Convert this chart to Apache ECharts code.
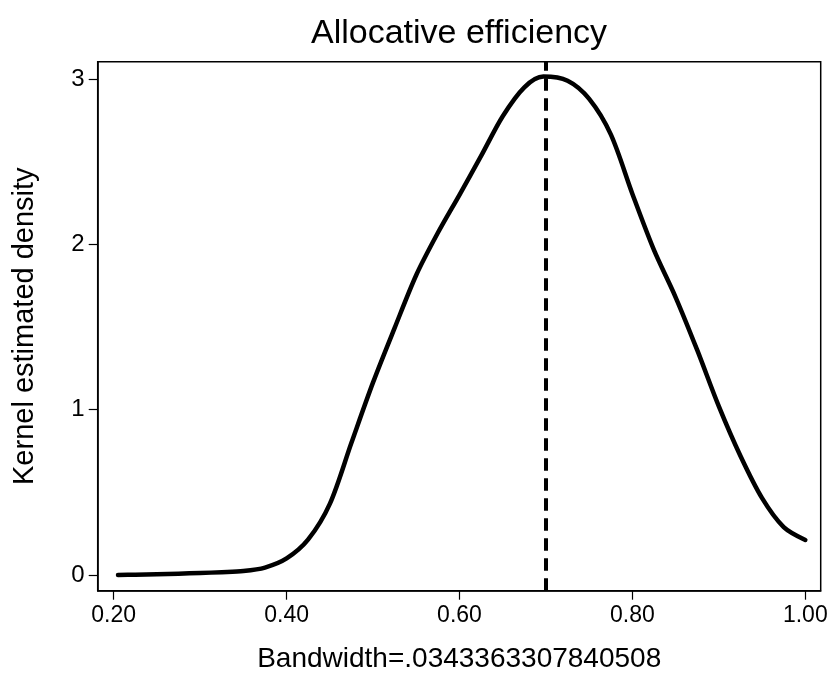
<!DOCTYPE html>
<html>
<head>
<meta charset="utf-8">
<script src="https://cdn.jsdelivr.net/npm/echarts@6/dist/echarts.min.js"></script>
<style>html,body{margin:0;padding:0;background:#fff}#c{width:833px;height:675px}</style>
</head>
<body>
<div id="c"></div>
<script>
const xValues = [0.205, 0.225, 0.25, 0.275, 0.30, 0.325, 0.35, 0.375, 0.40, 0.425, 0.45, 0.475, 0.50, 0.525, 0.55, 0.575, 0.60, 0.625, 0.65, 0.675, 0.697, 0.725, 0.75, 0.775, 0.80, 0.825, 0.85, 0.875, 0.90, 0.925, 0.95, 0.975, 1.0];
const densityValues = [0.0, 0.002, 0.004, 0.008, 0.012, 0.017, 0.024, 0.045, 0.10, 0.215, 0.43, 0.80, 1.165, 1.495, 1.815, 2.07, 2.30, 2.535, 2.775, 2.95, 3.015, 2.99, 2.88, 2.665, 2.305, 1.965, 1.68, 1.36, 1.02, 0.72, 0.465, 0.29, 0.212];
const meanLine = 0.6958;
const xTicks = [0.2, 0.4, 0.6, 0.8, 1.0];
const yTicks = [0, 1, 2, 3];
const titleText = 'Allocative efficiency';
const xTitle = 'Bandwidth=.0343363307840508';
const yTitle = 'Kernel estimated density';

const FONT = '"Liberation Sans", Arial, Helvetica, sans-serif';
const chart = echarts.init(document.getElementById('c'), null, {renderer: 'canvas'});
chart.setOption({
  animation: false,
  backgroundColor: '#fff',
  title: {
    text: titleText, left: 454, top: 12, textAlign: 'center',
    textStyle: {fontFamily: FONT, fontSize: 34, fontWeight: 'normal', color: '#000'}
  },
  grid: {left: 97.7, right: 12.3, top: 61.7, bottom: 84.3, show: true, borderColor: '#000', borderWidth: 1.5, backgroundColor: '#fff', containLabel: false, outerBoundsMode: 'none'},
  xAxis: {
    type: 'value', min: 0.1815, max: 1.0178,
    name: xTitle, nameLocation: 'middle', nameGap: 55,
    nameTextStyle: {fontFamily: FONT, fontSize: 28, color: '#000'},
    axisLine: {show: true, onZero: false, lineStyle: {color: '#000', width: 1.5}},
    axisTick: {show: true, length: 9, customValues: xTicks, lineStyle: {color: '#000', width: 1.2}},
    axisLabel: {customValues: xTicks, fontFamily: FONT, fontSize: 23, color: '#000', margin: 13, formatter: v => v.toFixed(2)},
    splitLine: {show: false}
  },
  yAxis: {
    type: 'value', min: -0.095, max: 3.105,
    name: yTitle, nameLocation: 'middle', nameGap: 58,
    nameTextStyle: {fontFamily: FONT, fontSize: 29, color: '#000'},
    axisLine: {show: true, onZero: false, lineStyle: {color: '#000', width: 1.5}},
    axisTick: {show: true, length: 9, customValues: yTicks, lineStyle: {color: '#000', width: 1.2}},
    axisLabel: {customValues: yTicks, fontFamily: FONT, fontSize: 24, color: '#000', margin: 13, formatter: v => String(v)},
    splitLine: {show: false}
  },
  series: [{
    type: 'line',
    data: xValues.map((x, i) => [x, densityValues[i]]),
    smooth: 0.3,
    showSymbol: false,
    lineStyle: {color: '#000', width: 4.5, cap: 'round', join: 'round'},
    markLine: {
      silent: true, symbol: 'none', label: {show: false},
      lineStyle: {color: '#000', width: 4, type: [12.5, 7.5]},
      data: [{xAxis: meanLine}]
    }
  }]
});
</script>
</body>
</html>
